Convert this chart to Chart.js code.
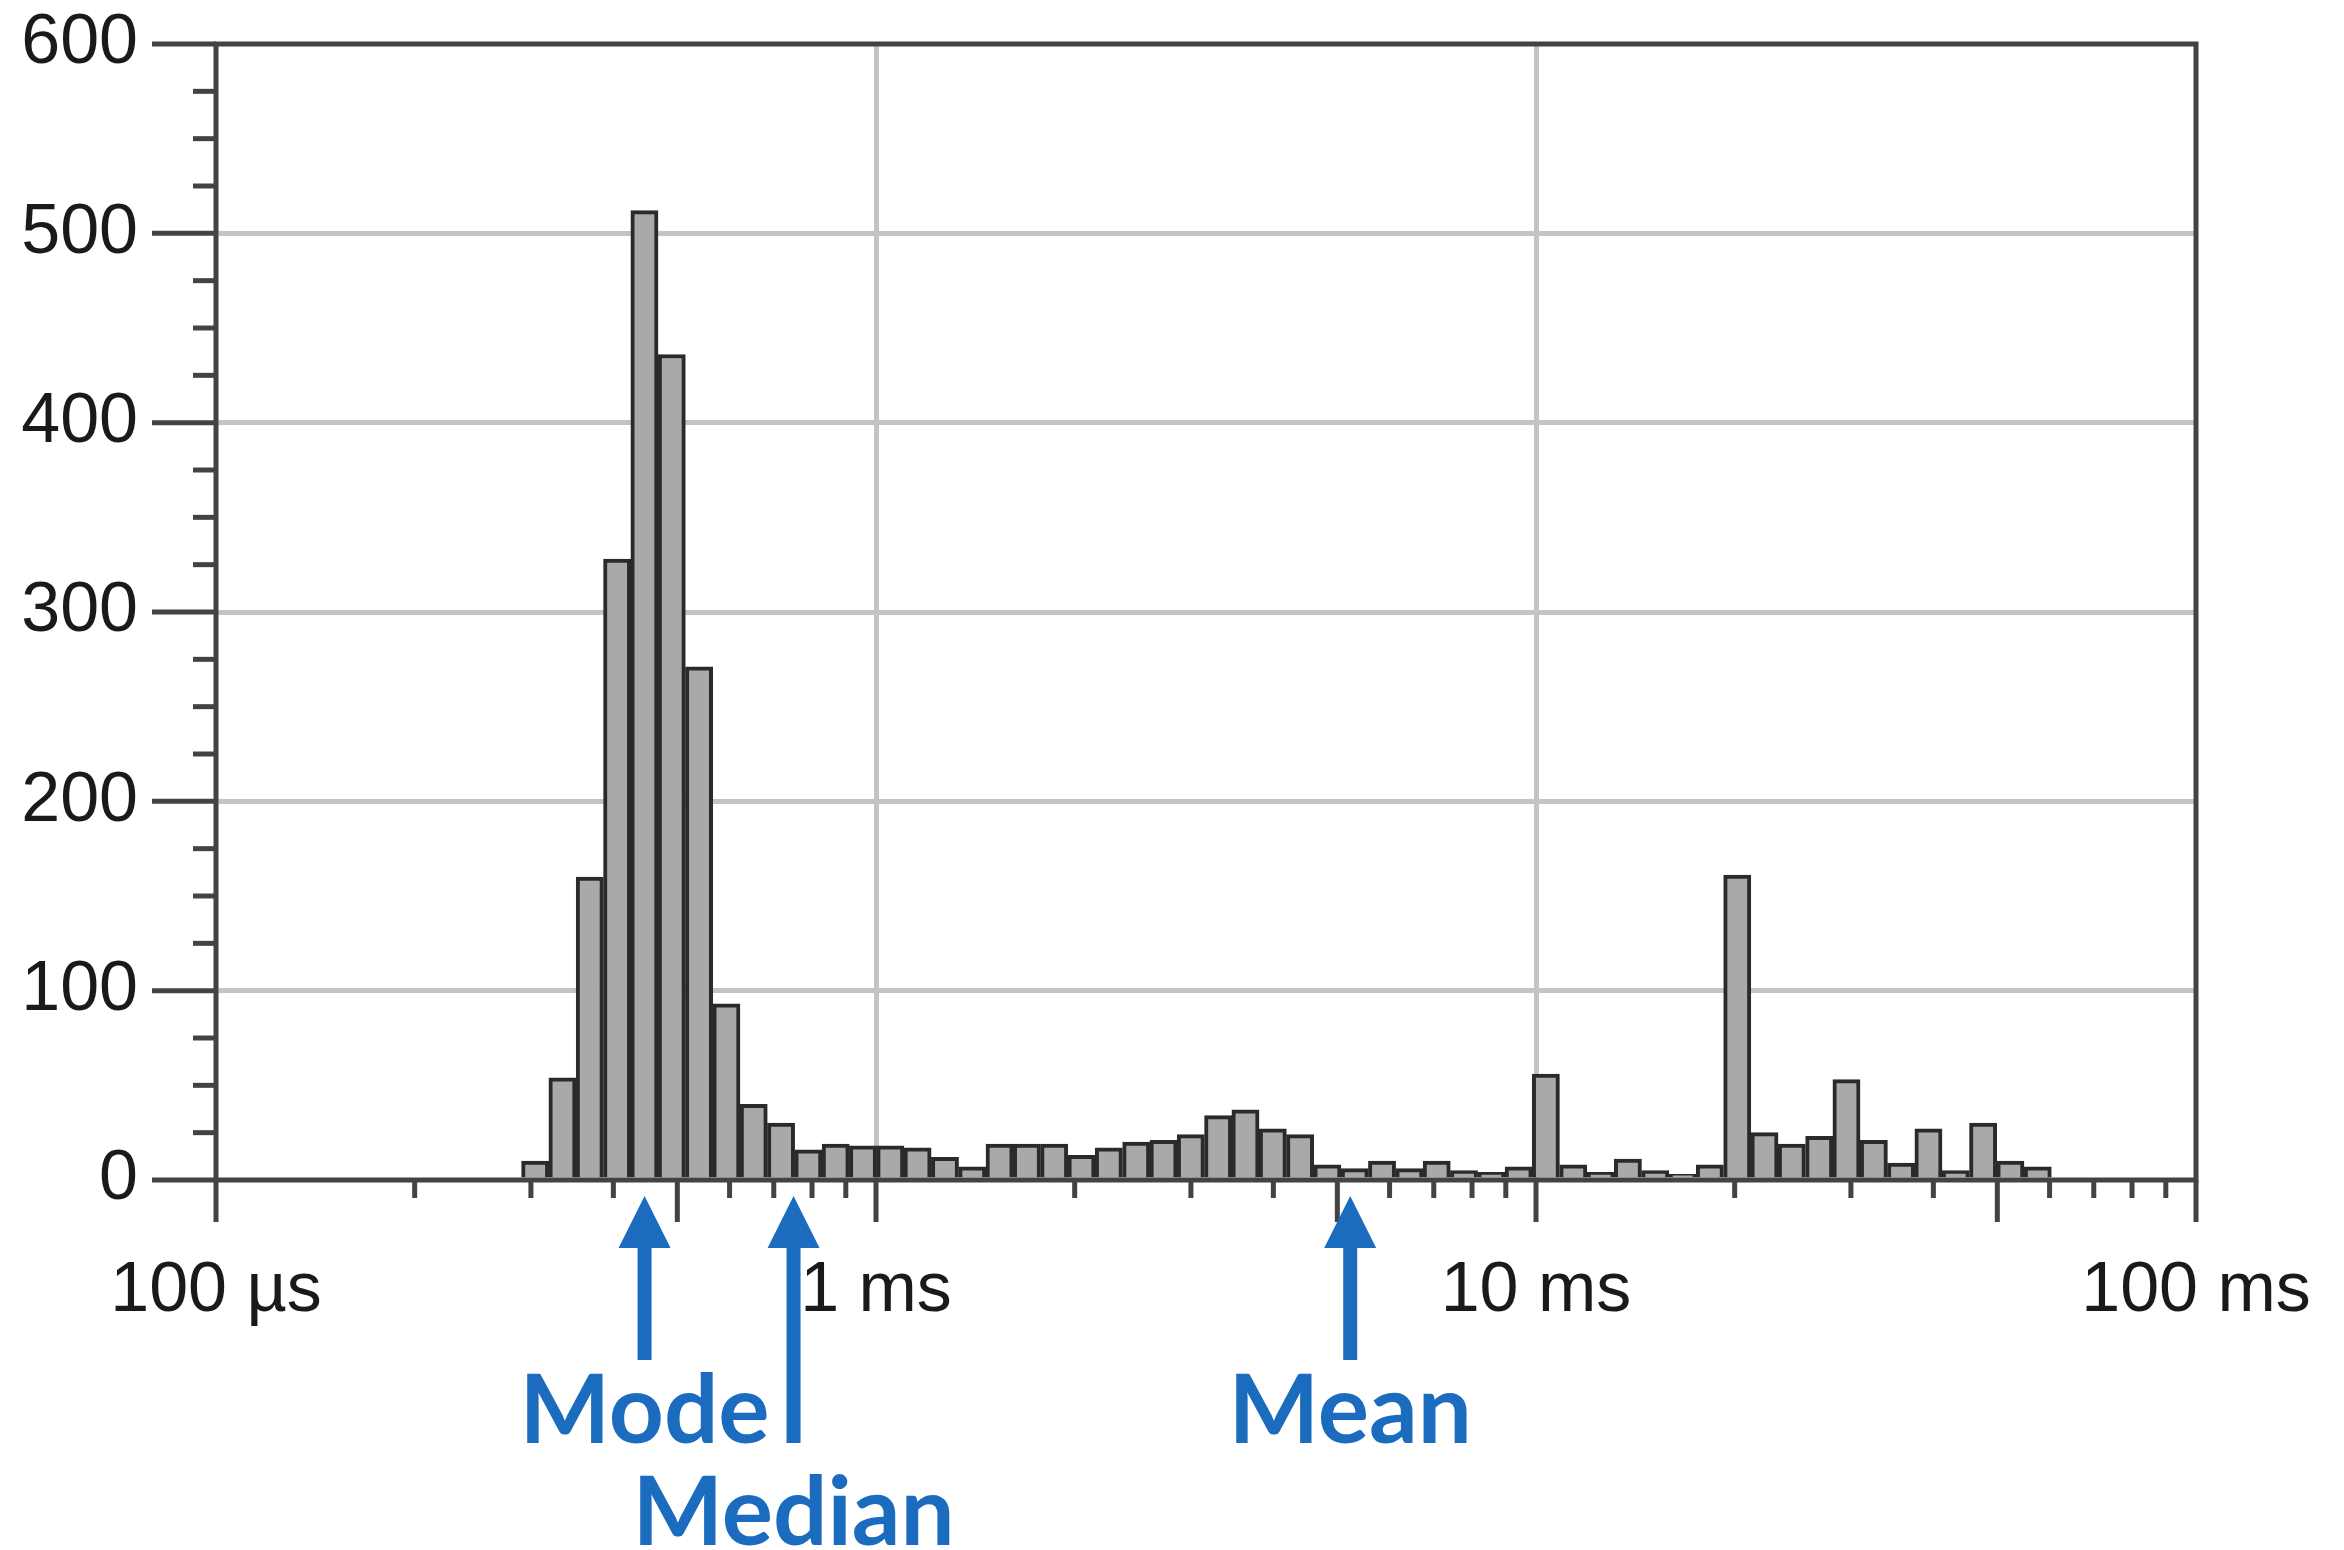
<!DOCTYPE html>
<html>
<head>
<meta charset="utf-8">
<title>Latency histogram</title>
<script src="https://cdn.jsdelivr.net/npm/chart.js@4.4.1/dist/chart.umd.min.js"></script>
<style>
  html, body { margin: 0; padding: 0; background: #fff; }
  #wrap { position: relative; width: 2344px; height: 1550px; }
</style>
</head>
<body>
<div id="wrap"><canvas id="histChart"></canvas></div>
<script>
// bin centres in ms (bins are log spaced, ratio ~1.1)
const binCentersMs = [
  0.3045, 0.3349, 0.3684, 0.4053, 0.4458, 0.4904, 0.5394, 0.5934, 0.6527, 0.7180,
  0.7898, 0.8688, 0.9556, 1.051, 1.156, 1.272, 1.399, 1.539, 1.693, 1.862,
  2.048, 2.253, 2.479, 2.727, 2.999, 3.299, 3.629, 3.992, 4.391, 4.830,
  5.313, 5.844, 6.429, 7.072, 7.779, 8.557, 9.413, 10.35, 11.39, 12.53,
  13.78, 15.16, 16.68, 18.34, 20.18, 22.19, 24.41, 26.86, 29.54, 32.50,
  35.74, 39.32, 43.25, 47.58, 52.33, 57.57
];
const counts = [
  10, 54, 160, 328, 512, 436, 271, 93, 40, 30,
  16, 19, 18, 18, 17, 12, 7, 19, 19, 19,
  13, 17, 20, 21, 24, 34, 37, 27, 24, 8,
  6, 10, 6, 10, 5, 4, 7, 56, 8, 4,
  11, 5, 3, 8, 161, 25, 19, 23, 53, 21,
  9, 27, 5, 30, 10, 7
];

// x axis (ms)
const xTickValues = [
  0.1, 0.2, 0.3, 0.4, 0.5, 0.6, 0.7, 0.8, 0.9,
  1, 2, 3, 4, 5, 6, 7, 8, 9,
  10, 20, 30, 40, 50, 60, 70, 80, 90, 100
];
const xLongTicks   = [0.1, 0.5, 1, 5, 10, 50, 100];
const xLabelValues = [0.1, 1, 10, 100];
const xLabelTexts  = ['100 µs', '1 ms', '10 ms', '100 ms'];
const xGridValues  = [1, 10];

// y axis
const yGridValues = [100, 200, 300, 400, 500];

// annotations
const markerNames    = ['Mode', 'Median', 'Mean'];
const markerValuesMs = [0.446, 0.75, 5.23];
const markerRows     = [0, 1, 0];

const AXIS  = '#434343';
const GRID  = '#c4c4c4';
const TEXT  = '#1a1a1a';
const BAR   = '#a9a9a9';
const EDGE  = '#2a2a2a';
const BLUE  = '#1b6cbf';

Chart.defaults.font.family = '"Liberation Sans", Arial, Helvetica, sans-serif';

// tick marks, frame and the Mode / Median / Mean arrows
const frameAndMarkers = {
  id: 'frameAndMarkers',
  afterDraw(chart) {
    const { ctx, chartArea: a, scales: { x, y } } = chart;
    ctx.save();
    ctx.strokeStyle = AXIS;
    ctx.lineWidth = 5;

    x.ticks.forEach(t => {
      const px = x.getPixelForValue(t.value);
      const len = xLongTicks.includes(t.value) ? 42 : 18;
      ctx.beginPath();
      ctx.moveTo(px, a.bottom);
      ctx.lineTo(px, a.bottom + len);
      ctx.stroke();
    });

    y.ticks.forEach(t => {
      const py = y.getPixelForValue(t.value);
      const len = t.value % 100 === 0 ? 64 : 23;
      ctx.beginPath();
      ctx.moveTo(a.left, py);
      ctx.lineTo(a.left - len, py);
      ctx.stroke();
    });

    ctx.strokeRect(a.left, a.top, a.right - a.left, a.bottom - a.top);

    ctx.fillStyle = BLUE;
    ctx.font = 'bold 96px Lato, "Open Sans", sans-serif';
    ctx.textAlign = 'center';
    ctx.textBaseline = 'alphabetic';
    markerValuesMs.forEach((v, i) => {
      const px = x.getPixelForValue(v);
      const tip = a.bottom + 16;
      const headH = 52, headW = 26, shaftW = 14;
      const shaftEnd = markerRows[i] ? a.bottom + 263 : a.bottom + 180;
      ctx.beginPath();
      ctx.moveTo(px, tip);
      ctx.lineTo(px + headW, tip + headH);
      ctx.lineTo(px - headW, tip + headH);
      ctx.closePath();
      ctx.fill();
      ctx.fillRect(px - shaftW / 2, tip + headH - 1, shaftW, shaftEnd - tip - headH + 1);
      const base = markerRows[i] ? a.bottom + 365 : a.bottom + 263;
      ctx.fillText(markerNames[i], px, base);
    });
    ctx.restore();
  }
};

new Chart(document.getElementById('histChart'), {
  type: 'bar',
  data: {
    datasets: [{
      label: 'Count',
      data: binCentersMs.map((c, i) => ({ x: c, y: counts[i] })),
      backgroundColor: BAR,
      borderColor: EDGE,
      borderWidth: 4,
      categoryPercentage: 1,
      barPercentage: 1
    }]
  },
  options: {
    responsive: true,
    maintainAspectRatio: false,
    animation: false,
    layout: { padding: { top: 44, right: 148, left: 0, bottom: 0 } },
    plugins: {
      legend: { display: false },
      tooltip: { enabled: false }
    },
    scales: {
      x: {
        type: 'logarithmic',
        min: 0.1,
        max: 100,
        offset: false,
        afterBuildTicks: s => { s.ticks = xTickValues.map(v => ({ value: v })); },
        afterFit: s => {
          s.height = 370;
          s.paddingLeft = 0; s.paddingRight = 0;
        },
        ticks: {
          autoSkip: false,
          maxRotation: 0,
          minRotation: 0,
          padding: 70,
          color: TEXT,
          font: { size: 70 },
          callback: v => {
            const i = xLabelValues.indexOf(v);
            return i >= 0 ? xLabelTexts[i] : '';
          }
        },
        grid: {
          offset: false,
          drawTicks: false,
          lineWidth: 5,
          color: c => (c.tick && xGridValues.includes(c.tick.value)) ? GRID : 'rgba(0,0,0,0)'
        },
        border: { display: false }
      },
      y: {
        min: 0,
        max: 600,
        afterFit: s => {
          s.width = 216;
          s.paddingTop = 0; s.paddingBottom = 0;
        },
        ticks: {
          stepSize: 25,
          autoSkip: false,
          padding: 78,
          color: TEXT,
          font: { size: 70 },
          callback: v => v % 100 === 0 ? v : ''
        },
        grid: {
          drawTicks: false,
          lineWidth: 5,
          color: c => (c.tick && yGridValues.includes(c.tick.value)) ? GRID : 'rgba(0,0,0,0)'
        },
        border: { display: false }
      }
    }
  },
  plugins: [frameAndMarkers]
});
</script>
</body>
</html>
